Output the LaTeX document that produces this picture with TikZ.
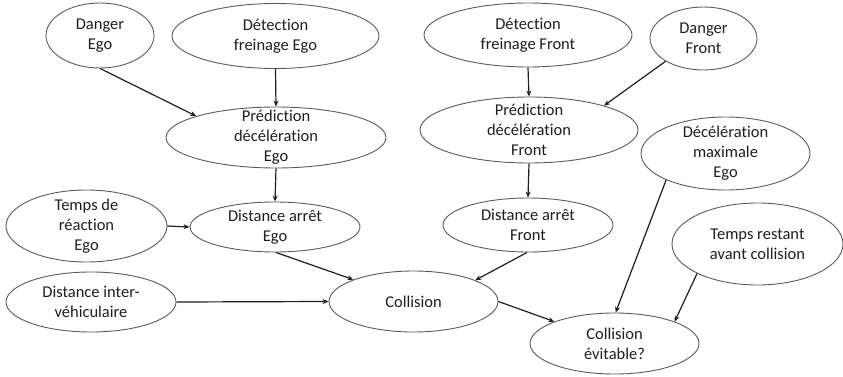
\documentclass[tikz,border=0pt]{standalone}
\usepackage{fontspec}
\setmainfont{Carlito}[Ligatures={NoCommon}]
\usetikzlibrary{shapes.geometric,arrows.meta}
\definecolor{ink}{HTML}{1E1E1E}
\definecolor{rim}{HTML}{5A5A5A}
\tikzset{
  ell/.style 2 args={ellipse, draw=rim, line width=0.9pt, inner sep=0pt,
    minimum width=#1pt, minimum height=#2pt},
  txt/.style={align=center, text=ink, inner sep=0pt,
    font=\fontsize{16.5}{20}\selectfont},
  arr/.style={draw=ink, line width=1.2pt, -{Stealth[length=6pt,width=5pt]}}
}
\begin{document}
\begin{tikzpicture}[x=1pt,y=-1pt]
\useasboundingbox (0,0) rectangle (843,377);
% ellipses
\node[ell={108}{65}]  (dE)  at (100,35.5)   {};
\node[ell={207}{65}]  (fE)  at (275.5,36)   {};
\node[ell={220}{61}]  (pE)  at (276,137.5)  {};
\node[ell={161}{72}]  (rE)  at (86.5,226)   {};
\node[ell={170}{50}]  (sE)  at (275,227)    {};
\node[ell={170}{60}]  (iv)  at (91,302)     {};
\node[ell={169}{61}]  (co)  at (413.5,301.5){};
\node[ell={208}{64}]  (fF)  at (528,35)     {};
\node[ell={107}{63}]  (dF)  at (703.5,38.5) {};
\node[ell={218}{66}]  (pF)  at (529,130)    {};
\node[ell={170}{54}]  (sF)  at (528,225)    {};
\node[ell={169}{73}]  (mE)  at (725.5,153.5){};
\node[ell={171}{82}]  (tr)  at (757.5,244)  {};
\node[ell={169}{61}]  (ce)  at (614.5,343.5){};
% texts
\node[txt] (tdE) at (dE) {Danger\\Ego};
\node[txt] (tfE) at (fE) {Détection\\freinage Ego};
\node[txt] (tpE) at (pE) {Prédiction\\décélération\\Ego};
\node[txt] (trE) at (rE) {Temps de\\réaction\\Ego};
\node[txt] (tsE) at (sE) {Distance arrêt\\Ego};
\node[txt] (tiv) at (iv) {Distance inter-\\véhiculaire};
\node[txt] (tco) at (co) {Collision};
\node[txt] (tfF) at (fF) {Détection\\freinage Front};
\node[txt] (tdF) at (dF) {Danger\\Front};
\node[txt] (tpF) at (pF) {Prédiction\\décélération\\Front};
\node[txt] (tsF) at (sF) {Distance arrêt\\Front};
\node[txt] (tmE) at (mE) {Décélération\\maximale\\Ego};
\node[txt] (ttr) at (tr) {Temps restant\\avant collision};
\node[txt] (tce) at (ce) {Collision\\évitable?};
% connectors
\draw[arr] (dE.south) -- (pE.165.5);
\draw[arr] (fE.south) -- (pE.north);
\draw[arr] (pE.south) -- (sE.north);
\draw[arr] (rE.east) -- (sE.west);
\draw[arr] (sE.-88) -- (co.160.4);
\draw[arr] (iv.east) -- (co.west);
\draw[arr] (fF.south) -- (pF.north);
\draw[arr] (dF.-149.7) -- (pF.18.2);
\draw[arr] (pF.south) -- (sF.north);
\draw[arr] (sF.-92) -- (co.19.3);
\draw[arr] (co.east) -- (ce.160.7);
\draw[arr] (mE.-156.5) -- (ce.88);
\draw[arr] (tr.-154.4) -- (ce.20.4);
\end{tikzpicture}
\end{document}
